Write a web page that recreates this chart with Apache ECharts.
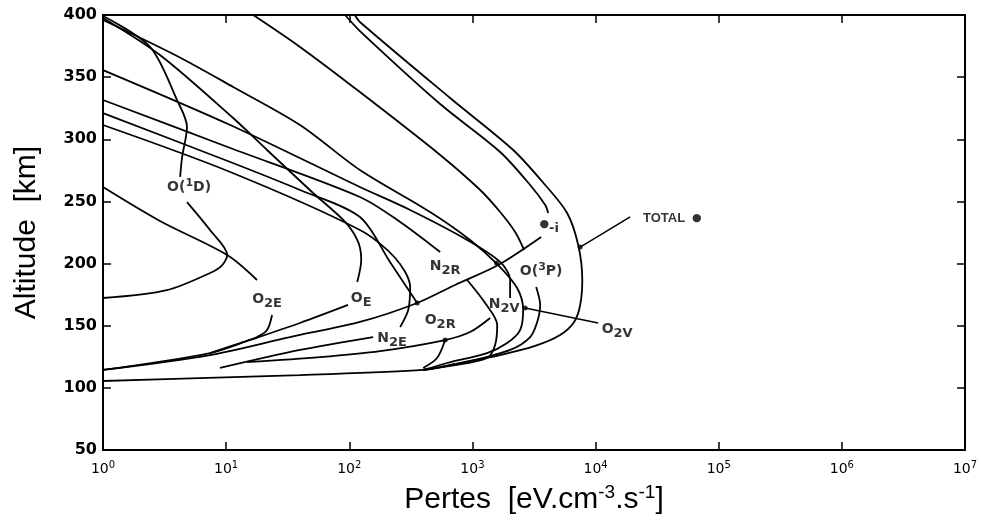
<!DOCTYPE html>
<html><head><meta charset="utf-8">
<script src="https://cdn.jsdelivr.net/npm/echarts@6/dist/echarts.min.js"></script>
<style>html,body{margin:0;padding:0;background:#fff}#c{width:981px;height:523px}</style>
</head><body><div id="c"></div>
<script>
// ---- data: [loss (eV cm-3 s-1), altitude (km)] ----
const TOTAL = [[111,400],[122,394.4],[659,333.2],[2143,291.4],[3899,263.2],[5875,240.7],[7228,214.9],[7800,186.8],[7500,166.7],[6700,153],[5152,142.5],[3228,133.7],[1679,126.4],[794,120],[398,114.4],[40,110.3],[6.1,107.9],[1,105.5]];
const EI_upper = [[92.5,400],[122,387.1],[547,328.4],[1679,289.8],[2944,263.2],[3899,247.1],[4121,240.7]];
const EI_lower = [[3614,221.4],[1618,198.8],[723,182.8],[356,168.3],[122,153],[33,140.9],[7.4,126.4],[1,114.4]];
const O3P_upper = [[16.6,400],[39.8,374.3],[122,338],[547,287.4],[1156,259.2],[1679,241.5],[2223,225.4],[2630,210.9]];
const O3P_lower = [[3292,181.2],[3548,166.7],[3357,153],[2944,140.9],[2023,130.5],[957,121.6],[398,114.4]];
const O2V = [[1,396],[3.85,367.8],[11.4,342.1],[39.8,311.5],[122,275.3],[453,241.5],[957,219],[1618,198.8],[2307,180.3],[2582,162.6],[2438,146.5],[1914,136.1],[1315,128],[622,120],[398,114.4]];
const N2V_upper = [[1,355.7],[10.8,311.5],[122,261.6],[312,243.1],[906,219],[1679,201.3],[2023,186.8],[2023,172.3]];
const N2V_lower = [[1393,156.2],[957,144.9],[600,138.5],[178,129.6],[57.9,124.8],[14.8,120.8]];
const N2R_upper = [[1,331.6],[10.8,293],[122,253.6],[259,233.5],[547,209.3]];
const N2R_lower = [[906,186.8],[1268,168.3],[1589,150.6],[1528,134.5],[1315,124],[659,117.6],[398,114.4]];
const O2R_upper = [[1,321.1],[10.8,281.7],[39.8,259.2],[122,237.5],[214,201.3],[356,168.3]];
const O2R_lower = [[600,138.5],[516,124],[398,116]];
const N2E_upper = [[1,311.5],[10.8,273.7],[122,227],[236,204.5],[312,181.2],[301,162.6],[259,149]];
const N2E_lower = [[156,140.9],[39.8,130.5],[8.91,116]];
const OE_upper = [[1,397.6],[2.9,367.8],[11.4,317.1],[21.5,291.4],[50.8,256.8],[92.5,233.5],[118,217.4],[125,202.9],[116,185.2]];
const OE_lower = [[97.7,166.7],[39.8,152.2],[15.6,138.5],[7.4,128],[1,114.4]];
const O2E_upper = [[1,261.6],[2.9,234.3],[10.2,206.9],[17.8,186.8]];
const O2E_lower = [[23.6,158.6],[21.5,146.5],[17.8,140.9],[13,136.1],[7.4,128]];
const O1D_upper = [[1,399.2],[2.41,374.3],[3.99,331.6],[4.81,309.9],[4.39,285.7],[4.23,269.7]];
const O1D_lower = [[4.81,249.5],[7.4,227],[10.2,206.9],[9.3,198.8],[7.4,192.4],[3.31,178.7],[1,172.3]];
const TOTAL_pointer = [[19100,237.5],[7500,213.3]];
const O2V_pointer = [[10500,152.2],[2680,164.3]];
const dots = [[1570,200.5],[356,168.3],[600,138.5],[7500,213.3],[2680,164.3]];

const labelTexts = ['{m|O(}{u|1}{m|D)}','{m|O}{s|2E}','{m|O}{s|E}','{m|N}{s|2E}','{m|O}{s|2R}','{m|N}{s|2R}','{m|N}{s|2V}','{m|O(}{u|3}{m|P)}','{m|O}{s|2V}','{t|TOTAL}{d|  ●}','{d|●}{s|-i}'];
const labelPos = [[5.0,261.6],[21.5,171.5],[125,172.3],[223,140.1],[547,154.6],[600,198],[1808,167.5],[3614,194],[14970,147.3],[42000,236.7],[4200,231.8]];

const xTickExps = [0,1,2,3,4,5,6,7];
const yTicks = [50,100,150,200,250,300,350,400];

const segments = [TOTAL,EI_upper,EI_lower,O3P_upper,O3P_lower,O2V,N2V_upper,N2V_lower,N2R_upper,N2R_lower,O2R_upper,O2R_lower,N2E_upper,N2E_lower,OE_upper,OE_lower,O2E_upper,O2E_lower,O1D_upper,O1D_lower];

const F = 'DejaVu Sans';
const richL = {
  m:{fontFamily:F,fontWeight:'bold',fontSize:14,color:'#000'},
  s:{fontFamily:F,fontWeight:'bold',fontSize:13,color:'#000',padding:[9,0,0,0]},
  u:{fontFamily:F,fontWeight:'bold',fontSize:11,color:'#000',padding:[0,0,8,0]},
  t:{fontFamily:'Liberation Sans',fontWeight:'bold',fontSize:13,color:'#000'},
  d:{fontFamily:F,fontSize:11,color:'#000'}
};

const series = segments.map(d => ({
  type:'line', data:d, smooth:0.3, showSymbol:false, silent:true,
  lineStyle:{color:'#000', width:1.8}
}));
[TOTAL_pointer,O2V_pointer].forEach(d => series.push({
  type:'line', data:d, smooth:false, showSymbol:false, silent:true, lineStyle:{color:'#000', width:1.5}
}));
series.push({type:'scatter', data:dots, symbolSize:5, itemStyle:{color:'#000'}, silent:true});
series.push({
  type:'scatter', symbolSize:1, itemStyle:{color:'rgba(0,0,0,0)'}, silent:true,
  data: labelPos.map((p,i)=>({value:p, label:{show:true, position:'inside', formatter:labelTexts[i], rich:richL}}))
});

const axisCommon = {
  axisLine:{show:true, lineStyle:{color:'#000', width:2}},
  axisTick:{show:true, inside:true, length:8, lineStyle:{color:'#000', width:1.5}},
  splitLine:{show:false}, minorTick:{show:false}
};

const option = {
  animation:false,
  backgroundColor:'#fff',
  grid:{left:103, right:16, top:15, bottom:73},
  xAxis:[
    Object.assign({}, axisCommon, {
      type:'log', logBase:10, min:1, max:1e7, splitNumber:7, position:'bottom',
      name:'{n|Pertes  [eV.cm}{p|-3}{n|.s}{p|-1}{n|]}', nameLocation:'middle', nameGap:33,
      nameTextStyle:{rich:{
        n:{fontFamily:'Liberation Sans',fontSize:30,color:'#000'},
        p:{fontFamily:'Liberation Sans',fontSize:19,color:'#000',padding:[0,0,15,0]}
      }},
      axisLabel:{margin:10, formatter:v => '{b|10}{p|' + Math.round(Math.log10(v)) + '}',
        rich:{b:{fontFamily:F,fontSize:14,color:'#000'}, p:{fontFamily:F,fontSize:10,color:'#000',padding:[0,0,9,0]}}}
    }),
    Object.assign({}, axisCommon, {
      type:'log', logBase:10, min:1, max:1e7, splitNumber:7, position:'top', axisLabel:{show:false}
    })
  ],
  yAxis:[
    Object.assign({}, axisCommon, {
      type:'value', min:50, max:400, interval:50, position:'left',
      name:'Altitude  [km]', nameLocation:'middle', nameGap:61,
      nameTextStyle:{fontFamily:'Liberation Sans',fontSize:30,color:'#000'},
      axisLabel:{margin:6, fontFamily:F, fontWeight:'bold', fontSize:16, color:'#000'}
    }),
    Object.assign({}, axisCommon, {
      type:'value', min:50, max:400, interval:50, position:'right', axisLabel:{show:false}
    })
  ],
  series: series
};

const chart = echarts.init(document.getElementById('c'), null, {renderer:'canvas'});
chart.setOption(option);
</script></body></html>
